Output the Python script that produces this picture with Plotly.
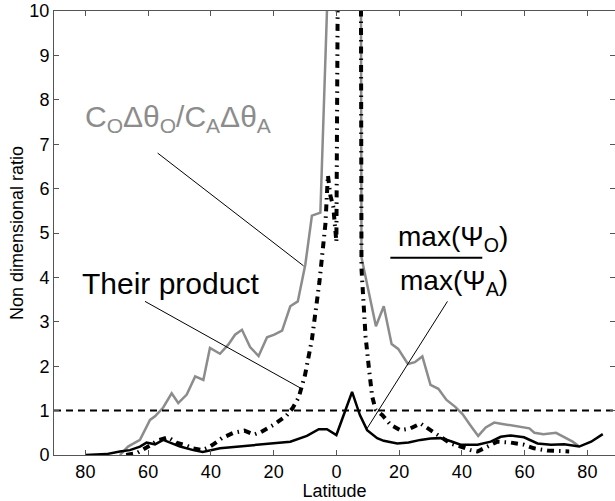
import plotly.graph_objects as go

# ---- data ----
ratio_lat = [-69.0, -66.4, -62.6, -59.4, -57.8, -55.2, -52.5, -50.4, -47.7, -45.0, -42.4,
             -40.3, -37.1, -34.4, -32.3, -30.1, -27.5, -24.8, -22.1, -19.8, -17.3, -14.7,
             -12.3, -9.9, -7.8, -5.1, -2.4, 0.0, 2.7, 5.4, 8.0, 12.6, 15.1, 17.6, 19.7,
             22.8, 25.0, 27.4, 30.0, 32.5, 35.1, 37.8, 40.2, 42.8, 45.2, 47.6, 50.3,
             52.9, 56.1, 59.3, 61.5, 63.1, 66.0, 70.0, 72.6, 75.3, 77.2]
ratio_val = [0.0, 0.19, 0.34, 0.79, 0.87, 1.07, 1.39, 1.17, 1.36, 1.77, 1.69,
             2.41, 2.28, 2.49, 2.71, 2.82, 2.43, 2.23, 2.65, 2.71, 2.80, 3.35,
             3.46, 4.29, 5.39, 5.46, 11.3, 40.0, 60.0, 100.0, 4.45, 2.90, 3.35, 2.50, 2.39,
             2.05, 2.09, 2.22, 1.58, 1.49, 1.24, 1.09, 0.92, 0.66, 0.43, 0.62, 0.73,
             0.70, 0.66, 0.62, 0.60, 0.50, 0.47, 0.50, 0.40, 0.30, 0.20]

prod_lat = [-67.0, -63.7, -60.5, -56.8, -53.6, -51.0, -48.0, -45.6, -42.9, -41.0, -39.0,
            -36.5, -32.8, -29.3, -26.2, -24.0, -20.0, -16.0, -14.0, -12.0, -10.0, -7.8,
            -5.4, -3.5, -2.7, -1.9, -1.0, 0.0, 2.7, 5.4, 8.0, 9.3, 10.3, 11.4, 12.5,
            14.6, 17.3, 20.4, 23.6, 26.8, 30.0, 33.2, 36.4, 39.6, 42.8, 45.0, 48.1,
            51.3, 55.6, 59.8, 63.0, 67.3, 70.5, 74.2]
prod_val = [0.0, 0.04, 0.17, 0.33, 0.40, 0.28, 0.22, 0.15, 0.11, 0.16, 0.25,
            0.38, 0.50, 0.55, 0.46, 0.52, 0.68, 0.88, 1.05, 1.30, 1.80, 2.60,
            3.90, 5.20, 6.30, 5.84, 5.60, 4.80, 40.0, 100.0, 4.20, 2.67, 2.00, 1.32, 1.02,
            0.90, 0.68, 0.56, 0.60, 0.71, 0.56, 0.41, 0.26, 0.19, 0.11, 0.08, 0.19,
            0.30, 0.28, 0.23, 0.15, 0.10, 0.09, 0.08]

psi_lat = [-80.0, -73.3, -69.0, -65.8, -62.6, -60.5, -57.8, -55.2, -53.0, -49.8, -45.6,
           -42.6, -37.1, -30.7, -20.0, -14.7, -9.4, -5.6, -3.0, 0.0, 5.0, 7.5, 9.8,
           13.0, 15.1, 19.4, 23.0, 26.8, 30.0, 33.2, 36.5, 39.6, 45.0, 49.2, 52.4,
           55.6, 59.8, 64.1, 68.4, 72.6, 77.4, 81.2, 84.9]
psi_val = [0.0, 0.02, 0.08, 0.11, 0.19, 0.28, 0.24, 0.34, 0.28, 0.19, 0.11,
           0.07, 0.15, 0.19, 0.26, 0.30, 0.43, 0.58, 0.58, 0.45, 1.42, 0.90, 0.56,
           0.38, 0.32, 0.26, 0.28, 0.34, 0.37, 0.38, 0.31, 0.23, 0.23, 0.30, 0.41,
           0.44, 0.40, 0.26, 0.23, 0.24, 0.19, 0.30, 0.47]

unity_lat = [-90, 90]
unity_val = [1, 1]

x_ticks = [-80, -60, -40, -20, 0, 20, 40, 60, 80]
x_ticktext = ["80", "60", "40", "20", "0", "20", "40", "60", "80"]
y_ticks = list(range(0, 11))

FONT = "Liberation Sans, Arial, Helvetica, sans-serif"
FRAME = "#555555"

fig = go.Figure()
fig.add_trace(go.Scatter(x=ratio_lat, y=ratio_val, mode="lines",
                         line=dict(color="#8c8c8c", width=2.5), showlegend=False))
fig.add_trace(go.Scatter(x=unity_lat, y=unity_val, mode="lines",
                         line=dict(color="black", width=2, dash="7px,5px"), showlegend=False))
fig.add_trace(go.Scatter(x=prod_lat, y=prod_val, mode="lines",
                         line=dict(color="black", width=4, dash="7px,5px,1.5px,5px"),
                         showlegend=False))
fig.add_trace(go.Scatter(x=psi_lat, y=psi_val, mode="lines",
                         line=dict(color="black", width=2.5), showlegend=False))

# pointer lines from labels to curves
for x0, y0, x1, y1 in [(-56.96, 6.80, -10.45, 4.26),
                       (-61.0, 3.46, -11.5, 1.51),
                       (35.4, 3.46, 9.8, 0.60)]:
    fig.add_shape(type="line", xref="x", yref="y", x0=x0, y0=y0, x1=x1, y1=y1,
                  line=dict(color="black", width=1))
# fraction bar
fig.add_shape(type="line", xref="x", yref="y", x0=17.2, y0=4.44, x1=46.5, y1=4.44,
              line=dict(color="black", width=2))

fig.add_annotation(x=-80.6, y=7.57, xref="x", yref="y", xanchor="left", yanchor="middle",
                   text="C<sub>O</sub>Δθ<sub>O</sub>/C<sub>A</sub>Δθ<sub>A</sub>",
                   showarrow=False, font=dict(family=FONT, size=30, color="#8c8c8c"))
fig.add_annotation(x=-81.6, y=3.87, xref="x", yref="y", xanchor="left", yanchor="middle",
                   text="Their product", showarrow=False,
                   font=dict(family=FONT, size=30, color="black"))
fig.add_annotation(x=37.3, y=4.88, xref="x", yref="y", xanchor="center", yanchor="middle",
                   text="max(Ψ<sub>O</sub>)", showarrow=False,
                   font=dict(family=FONT, size=28, color="black"))
fig.add_annotation(x=37.6, y=3.88, xref="x", yref="y", xanchor="center", yanchor="middle",
                   text="max(Ψ<sub>A</sub>)", showarrow=False,
                   font=dict(family=FONT, size=28, color="black"))

axis_common = dict(showgrid=False, zeroline=False, showline=True, linecolor=FRAME,
                   linewidth=1, mirror="ticks", ticks="inside", ticklen=5,
                   tickcolor=FRAME, tickwidth=1, automargin=False,
                   tickfont=dict(family=FONT, size=18, color="black"))

fig.update_layout(
    width=615, height=501,
    margin=dict(l=54, r=0, t=11, b=46),
    paper_bgcolor="white", plot_bgcolor="white",
    xaxis=dict(range=[-90, 88.8], tickvals=x_ticks, ticktext=x_ticktext,
               title=dict(text="Latitude", font=dict(family=FONT, size=18, color="black"),
                          standoff=2),
               **axis_common),
    yaxis=dict(range=[0, 10], tickvals=y_ticks,
               title=dict(text="Non dimensional ratio",
                          font=dict(family=FONT, size=18, color="black"), standoff=1),
               **axis_common),
    font=dict(family=FONT),
)

fig.write_html("out.html", config={"displayModeBar": False},
               post_script="document.body.style.margin='0';"
                           "document.body.style.overflow='hidden';")
